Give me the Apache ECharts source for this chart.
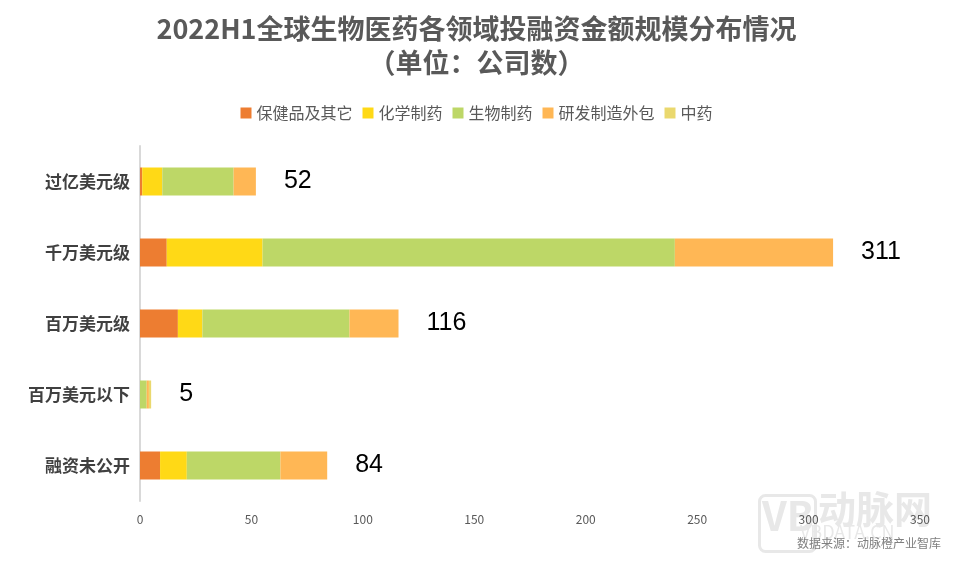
<!DOCTYPE html>
<html><head><meta charset="utf-8">
<script src="https://cdn.jsdelivr.net/npm/echarts@6/dist/echarts.min.js"></script>
<style>html,body{margin:0;padding:0;background:#fff}#c{width:953px;height:561px}</style>
</head><body><div id="c"></div>
<script>
const categories = ['过亿美元级', '千万美元级', '百万美元级', '百万美元以下', '融资未公开'];
const seriesNames = ['保健品及其它', '化学制药', '生物制药', '研发制造外包', '中药'];
const healthcare = [1, 12, 17, 0, 9];
const chemical = [9, 43, 11, 0, 12];
const biologic = [32, 185, 66, 3, 42];
const cro = [10, 71, 22, 1, 21];
const tcm = [0, 0, 0, 1, 0];
const totals = [52, 311, 116, 5, 84];
const xTicks = [0, 50, 100, 150, 200, 250, 300, 350];

const colors = ['#ED7D31', '#FFD916', '#BDD767', '#FFB755', '#EAD86E'];
const font = '"Noto Sans CJK SC", "Noto Sans", sans-serif';
const values = [healthcare, chemical, biologic, cro, tcm];

const series = seriesNames.map((n, i) => ({
  name: n, type: 'bar', stack: 'total', barWidth: 28,
  itemStyle: { color: colors[i] }, data: values[i]
}));
series.push({
  name: '合计', type: 'bar', stack: 'total', barWidth: 28,
  itemStyle: { color: 'transparent' },
  data: totals.map(() => 0),
  label: {
    show: true, position: 'right', distance: 28,
    formatter: p => totals[p.dataIndex],
    fontSize: 25, color: '#000', fontFamily: 'Arial, "Liberation Sans", sans-serif'
  },
  silent: true
});

const chart = echarts.init(document.getElementById('c'));
chart.setOption({
  animation: false,
  title: {
    text: '2022H1全球生物医药各领域投融资金额规模分布情况\n（单位：公司数）',
    left: 'center', top: 7,
    textStyle: { fontSize: 27, fontWeight: 'bold', color: '#595959', fontFamily: font, lineHeight: 34 }
  },
  legend: {
    data: seriesNames, top: 100, left: 'center', itemWidth: 11, itemHeight: 11, itemGap: 10,
    icon: 'rect',
    textStyle: { fontSize: 16, color: '#595959', fontFamily: font }
  },
  grid: { left: 140, right: 33, top: 146, bottom: 60, containLabel: false },
  xAxis: {
    type: 'value', min: 0, max: 350, interval: 50,
    axisLine: { show: false }, axisTick: { show: false }, splitLine: { show: false },
    axisLabel: { color: '#595959', fontSize: 12, margin: 12, fontFamily: font,
      formatter: v => xTicks.includes(v) ? String(v) : '' }
  },
  yAxis: {
    type: 'category', data: categories, inverse: true,
    axisLine: { show: true, lineStyle: { color: '#D9D9D9', width: 2 } },
    axisTick: { show: false },
    axisLabel: { color: '#404040', fontSize: 17, fontWeight: 'bold', margin: 10, fontFamily: font }
  },
  series: series,
  graphic: [
    { type: 'text', left: 818, top: 490, style: { text: '动脉网', fontSize: 38, fill: '#E8E8E8', fontFamily: font, fontWeight: 'bold' }, z: -1 },
    { type: 'text', left: 800, top: 523, style: { text: 'VBDATA.CN', fontSize: 18, fill: '#E8E8E8', fontFamily: font }, z: -1 },
    { type: 'rect', left: 757, top: 493, shape: { width: 56, height: 56, r: 6 }, style: { fill: 'none', stroke: '#E8E8E8', lineWidth: 3 }, z: -1 },
    { type: 'text', left: 762, top: 496, style: { text: 'VB', fontSize: 40, fill: '#E8E8E8', fontFamily: font, fontWeight: 'bold' }, z: -1 },
    { type: 'text', right: 12, top: 537, style: { text: '数据来源：动脉橙产业智库', fontSize: 12, fill: '#7F7F7F', fontFamily: font }, z: 10 }
  ]
});
</script></body></html>
